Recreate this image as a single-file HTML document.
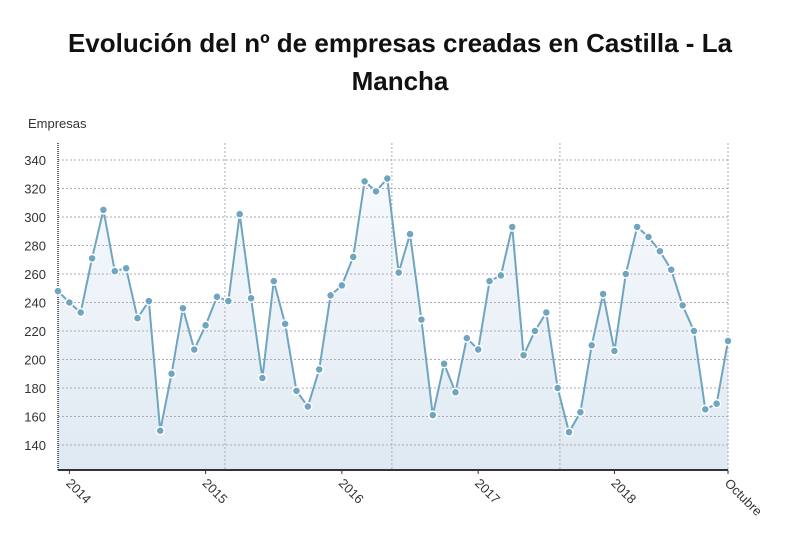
<!DOCTYPE html>
<html><head><meta charset="utf-8"><style>
body{margin:0;background:#fff;width:800px;height:539px;overflow:hidden;font-family:"Liberation Sans",sans-serif}
</style></head><body>
<svg id="c" width="800" height="539">
<defs><linearGradient id="g" x1="0" y1="0" x2="0" y2="1"><stop offset="0" stop-color="#f7fafd"/><stop offset="1" stop-color="#dfe9f2"/></linearGradient></defs>
<text x="400" y="52" text-anchor="middle" font-size="26" font-weight="bold" fill="#111">Evolución del nº de empresas creadas en Castilla - La</text>
<text x="400" y="90" text-anchor="middle" font-size="26" font-weight="bold" fill="#111">Mancha</text>
<text x="28" y="128" font-size="13" fill="#333">Empresas</text>
</svg>
<script>
const values=[248,240,233,271,305,262,264,229,241,150,190,236,207,224,244,241,302,243,187,255,225,178,167,193,245,252,272,325,318,327,261,288,228,161,197,177,215,207,255,259,293,203,220,233,180,149,163,210,246,206,260,293,286,276,263,238,220,165,169,213];
const yTicks=[140,160,180,200,220,240,260,280,300,320,340];
const xLabels=["2014","2015","2016","2017","2018","Octubre"];
const xLabelIdx=[1,13,25,37,49,59];
const vGridIdx=[14.7,29.4,44.2,59];
const svg=document.getElementById('c');const NS="http://www.w3.org/2000/svg";
const X0=58,X1=728,Yb=470;
const x=i=>X0+(X1-X0)*i/(values.length-1);
const y=v=>445-(v-140)*(285/200);
function el(t,a){const e=document.createElementNS(NS,t);for(const k in a)e.setAttribute(k,a[k]);svg.appendChild(e);return e;}
let area=`M${X0},${Yb}`;values.forEach((v,i)=>area+=`L${x(i)},${y(v)}`);area+=`L${X1},${Yb}Z`;
const ar=el('path',{d:area,fill:'url(#g)'});


yTicks.forEach(t=>{const l=el('line',{x1:X0,x2:X1,y1:y(t),y2:y(t),stroke:'#aab',"stroke-dasharray":'2,2',"stroke-width":1});


const tx=el('text',{x:46,y:y(t)+5,"text-anchor":'end',"font-size":13,fill:'#333'});tx.textContent=t;

});
vGridIdx.forEach(i=>{const l=el('line',{x1:x(i),x2:x(i),y1:143,y2:Yb,stroke:'#aab',"stroke-dasharray":'2,2'});

});
const ax=el('line',{x1:X0,x2:X0,y1:143,y2:Yb,stroke:'#333',"stroke-width":1.5,"stroke-dasharray":'1,1'});


const bx=el('line',{x1:X0,x2:X1,y1:Yb,y2:Yb,stroke:'#333',"stroke-width":2});


xLabels.forEach((s,k)=>{const xx=x(xLabelIdx[k]);
const tk=el('line',{x1:xx,x2:xx,y1:Yb,y2:Yb+4,stroke:'#333'});


const tx=el('text',{x:xx-4,y:Yb+14,"font-size":13,fill:'#333',transform:`rotate(45 ${xx-4} ${Yb+14})`});tx.textContent=s;

});
const ln=el('polyline',{points:values.map((v,i)=>x(i)+','+y(v)).join(' '),fill:'none',stroke:'#6fa5c0',"stroke-width":2});


values.forEach((v,i)=>{const c=el('circle',{cx:x(i),cy:y(v),r:4,fill:'#6fa5c0',stroke:'#fff',"stroke-width":1.5});

});
</script>
</body></html>
